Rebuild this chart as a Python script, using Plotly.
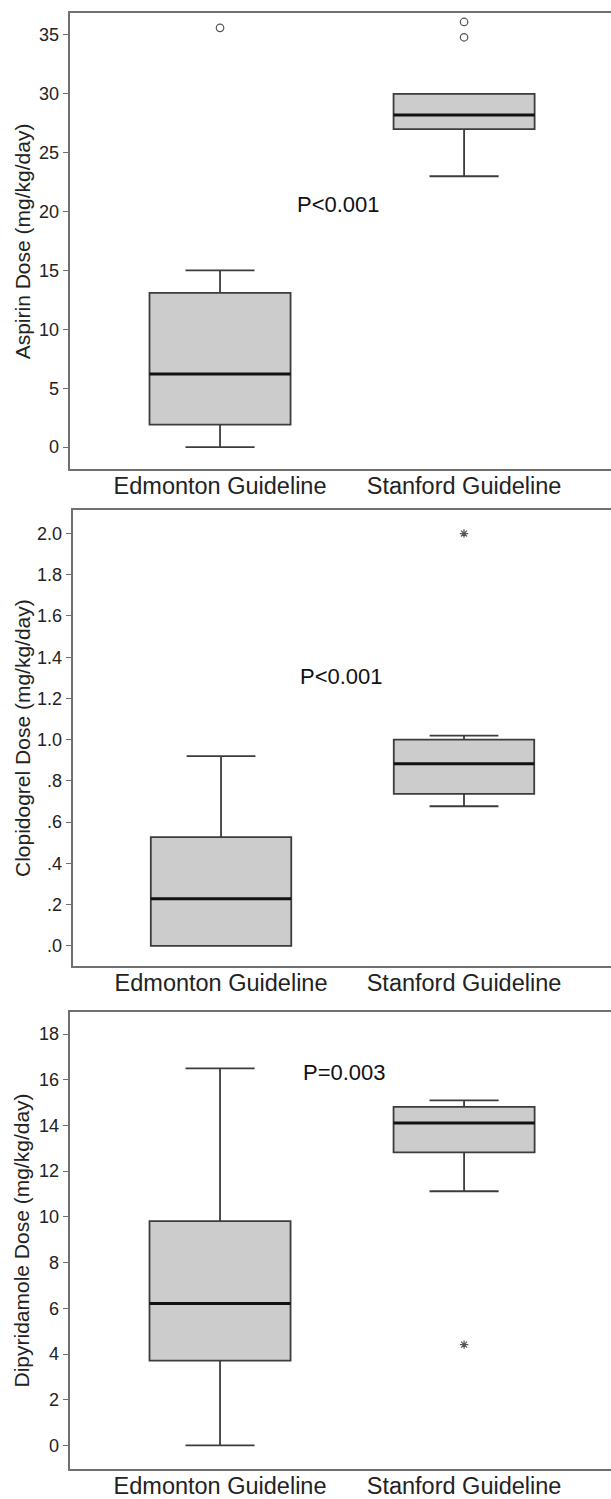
import plotly.graph_objects as go

# ---------------- data ----------------
categories = ["Edmonton Guideline", "Stanford Guideline"]

# Panel 1: Aspirin
aspirin_q1 = [1.9, 27.0]
aspirin_median = [6.2, 28.2]
aspirin_q3 = [13.1, 30.0]
aspirin_low = [0.0, 23.0]
aspirin_high = [15.0, 30.0]
aspirin_out_x = ["Edmonton Guideline", "Stanford Guideline", "Stanford Guideline"]
aspirin_out_y = [35.6, 36.1, 34.8]
aspirin_p = "P<0.001"

# Panel 2: Clopidogrel
clop_q1 = [0.0, 0.737]
clop_median = [0.228, 0.883]
clop_q3 = [0.527, 1.0]
clop_low = [0.0, 0.677]
clop_high = [0.92, 1.02]
clop_out_x = ["Stanford Guideline"]
clop_out_y = [2.0]
clop_p = "P<0.001"
clop_tickvals = [0.0, 0.2, 0.4, 0.6, 0.8, 1.0, 1.2, 1.4, 1.6, 1.8, 2.0]
clop_ticktext = [".0", ".2", ".4", ".6", ".8", "1.0", "1.2", "1.4", "1.6", "1.8", "2.0"]

# Panel 3: Dipyridamole
dipy_q1 = [3.71, 12.82]
dipy_median = [6.21, 14.11]
dipy_q3 = [9.81, 14.81]
dipy_low = [0.0, 11.12]
dipy_high = [16.5, 15.1]
dipy_out_x = ["Stanford Guideline"]
dipy_out_y = [4.41]
dipy_p = "P=0.003"

y_titles = ["Aspirin Dose (mg/kg/day)", "Clopidogrel Dose (mg/kg/day)",
            "Dipyridamole Dose (mg/kg/day)"]

# ---------------- style ----------------
FONT = "Liberation Sans, Arial, sans-serif"
W, H = 611, 1499
FRAME = "#707070"
BOXLINE = "#3c3c3c"
FILL = "#cccccc"
TXT = "#222222"

panels = [
    dict(q1=aspirin_q1, med=aspirin_median, q3=aspirin_q3, lo=aspirin_low, hi=aspirin_high,
         ox=aspirin_out_x, oy=aspirin_out_y, sym="circle-open", osize=7.5,
         p=aspirin_p, px=0.484, py=20.6,
         yr=[-1.9, 36.84], tv=[0, 5, 10, 15, 20, 25, 30, 35], tt=None,
         top=13.3, bot=470.7, left=70.3, xr=[-0.6135, 1.602]),
    dict(q1=clop_q1, med=clop_median, q3=clop_q3, lo=clop_low, hi=clop_high,
         ox=clop_out_x, oy=clop_out_y, sym="asterisk-open", osize=7,
         p=clop_p, px=0.496, py=1.305,
         yr=[-0.1, 2.116], tv=clop_tickvals, tt=clop_ticktext,
         top=511.0, bot=969.0, left=73.3, xr=[-0.608, 1.605]),
    dict(q1=dipy_q1, med=dipy_median, q3=dipy_q3, lo=dipy_low, hi=dipy_high,
         ox=dipy_out_x, oy=dipy_out_y, sym="asterisk-open", osize=7,
         p=dipy_p, px=0.51, py=16.32,
         yr=[-1.02, 18.95], tv=list(range(0, 19, 2)), tt=None,
         top=1015.0, bot=1472.7, left=70.3, xr=[-0.6135, 1.602]),
]

fig = go.Figure()
annotations = []
for i, pn in enumerate(panels):
    n = "" if i == 0 else str(i + 1)
    xa, ya = "x" + n, "y" + n
    # box
    fig.add_trace(go.Box(
        x=categories, q1=pn["q1"], median=pn["med"], q3=pn["q3"],
        lowerfence=pn["lo"], upperfence=pn["hi"],
        width=0.578, whiskerwidth=0.49, fillcolor=FILL,
        line=dict(color=BOXLINE, width=1.8), boxpoints=False,
        xaxis=xa, yaxis=ya, showlegend=False, hoverinfo="skip"))
    # thick median line
    fig.add_trace(go.Box(
        x=categories, q1=pn["med"], median=pn["med"], q3=pn["med"],
        lowerfence=pn["med"], upperfence=pn["med"],
        width=0.578, whiskerwidth=0, fillcolor="rgba(0,0,0,0)",
        line=dict(color="#111111", width=3), boxpoints=False,
        xaxis=xa, yaxis=ya, showlegend=False, hoverinfo="skip"))
    # outliers
    fig.add_trace(go.Scatter(
        x=pn["ox"], y=pn["oy"], mode="markers",
        marker=dict(symbol=pn["sym"], size=pn["osize"], color="#555555",
                    line=dict(width=1.2, color="#555555")),
        xaxis=xa, yaxis=ya, showlegend=False, hoverinfo="skip"))

    ydom = [1 - pn["bot"] / H, 1 - pn["top"] / H]
    xdom = [pn["left"] / W, 1.0]
    fig.layout["xaxis" + n] = dict(
        domain=xdom, anchor=ya, type="category",
        categoryorder="array", categoryarray=categories,
        range=pn["xr"], showline=True, linecolor=FRAME, linewidth=1.5,
        mirror=True, ticks="", showgrid=False, zeroline=False,
        ticklabelstandoff=-5,
        tickfont=dict(family=FONT, size=23.5, color=TXT), fixedrange=True)
    yax = dict(
        domain=ydom, anchor=xa, range=pn["yr"], tickmode="array",
        tickvals=pn["tv"], showline=True, linecolor=FRAME, linewidth=1.5,
        mirror=False, ticks="outside", ticklen=6, tickcolor=FRAME, tickwidth=1.3,
        showgrid=False, zeroline=False,
        tickfont=dict(family=FONT, size=18, color=TXT), fixedrange=True)
    if pn["tt"] is not None:
        yax["ticktext"] = pn["tt"]
    fig.layout["yaxis" + n] = yax

    annotations.append(dict(
        text=pn["p"], x=pn["px"], y=pn["py"], xref=xa, yref=ya,
        showarrow=False, font=dict(family=FONT, size=22, color="#111111"),
        xanchor="center", yanchor="middle"))
    annotations.append(dict(
        text=y_titles[i], x=22 / W, y=(ydom[0] + ydom[1]) / 2,
        xref="paper", yref="paper", textangle=-90, showarrow=False,
        font=dict(family=FONT, size=21, color=TXT),
        xanchor="center", yanchor="middle"))

fig.update_layout(
    width=W, height=H, margin=dict(l=0, r=0, t=0, b=0),
    paper_bgcolor="white", plot_bgcolor="white",
    boxmode="overlay", annotations=annotations, showlegend=False)

fig.write_html("out.html", config={"displayModeBar": False},
               post_script="document.body.style.margin='0';document.body.style.overflow='hidden';")
